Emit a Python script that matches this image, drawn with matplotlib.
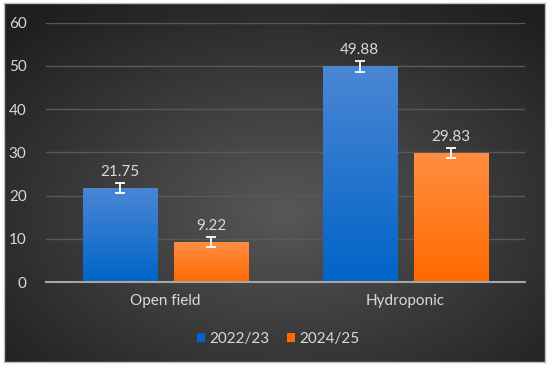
import numpy as np
import matplotlib.pyplot as plt
from matplotlib.colors import LinearSegmentedColormap

categories = ["Open field", "Hydroponic"]
series = ["2022/23", "2024/25"]
values_2223 = [21.75, 49.88]
values_2425 = [9.22, 29.83]
errors_2223 = [1.2, 1.2]
errors_2425 = [1.2, 1.2]

plt.rcParams['font.family'] = ['Lato', 'DejaVu Sans']
txt = '#d9d9d9'

fig = plt.figure(figsize=(5.5, 3.68), dpi=100)
fig.patch.set_facecolor('white')

# chart area with radial gradient
bg = fig.add_axes([4/550, 6/368, 541/550, 359/368])
yy, xx = np.mgrid[0:1:200j, 0:1:300j]
r = np.sqrt(((xx - 0.52) / 0.72) ** 2 + ((yy - 0.42) / 0.72) ** 2)
r = np.clip(r, 0, 1)
bgcmap = LinearSegmentedColormap.from_list('bg', ['#575757', '#1e1e1e'])
bg.imshow(r, cmap=bgcmap, aspect='auto', extent=[0, 1, 0, 1], origin='lower')
bg.set_xticks([])
bg.set_yticks([])
for s in bg.spines.values():
    s.set_color('#bfbfbf')
    s.set_linewidth(1)

ax = fig.add_axes([46/550, 86/368, 479/550, 259.3/368])
ax.patch.set_alpha(0)
ax.set_ylim(0, 60)
ax.set_xlim(-0.5, 1.5)
ax.set_yticks(range(0, 61, 10))
ax.grid(axis='y', color='#595959', linewidth=1)
ax.set_axisbelow(True)
for s in ['top', 'right', 'left']:
    ax.spines[s].set_visible(False)
ax.spines['bottom'].set_color('#a6a6a6')
ax.spines['bottom'].set_linewidth(1.5)
ax.tick_params(length=0, colors=txt, labelsize=11)
ax.tick_params(axis='y', pad=14)
ax.tick_params(axis='x', pad=9)

x = np.arange(len(categories))
w = 0.31
off = 0.19
grads = [('#4a86d4', '#0064c8'), ('#ff8d42', '#ff6a00')]
sets = [(values_2223, errors_2223), (values_2425, errors_2425)]
for k, (vals, errs) in enumerate(sets):
    xs = x + (off if k else -off)
    bars = ax.bar(xs, vals, w, color=grads[k][1], label=series[k], zorder=2)
    cm = LinearSegmentedColormap.from_list('g%d' % k, [grads[k][1], grads[k][0]])
    for b, v in zip(bars, vals):
        g = np.linspace(0, 1, 100).reshape(-1, 1)
        im = ax.imshow(g, cmap=cm, aspect='auto', origin='lower',
                       extent=[b.get_x(), b.get_x() + w, 0, v], zorder=2.5)
        im.set_clip_path(b)
    ax.errorbar(xs, vals, yerr=errs, fmt='none', ecolor='white',
                elinewidth=1.3, capsize=3.5, capthick=1.3, zorder=3)
    for xi, v, e in zip(xs, vals, errs):
        ax.annotate('%.2f' % v, (xi, v + e), xytext=(0, 3), textcoords='offset points',
                    ha='center', va='bottom', color=txt, fontsize=11)

ax.set_xticks(x)
ax.set_xticklabels(categories)
ax.set_xlim(-0.5, 1.5)
ax.set_ylim(0, 60)

leg = ax.legend(loc='upper center', bbox_to_anchor=(0.485, -0.14), ncol=2, frameon=False,
                fontsize=11, handlelength=0.55, handleheight=0.55, handletextpad=0.3,
                columnspacing=1.1, labelcolor=txt)

fig.savefig('out.png', dpi=100)
